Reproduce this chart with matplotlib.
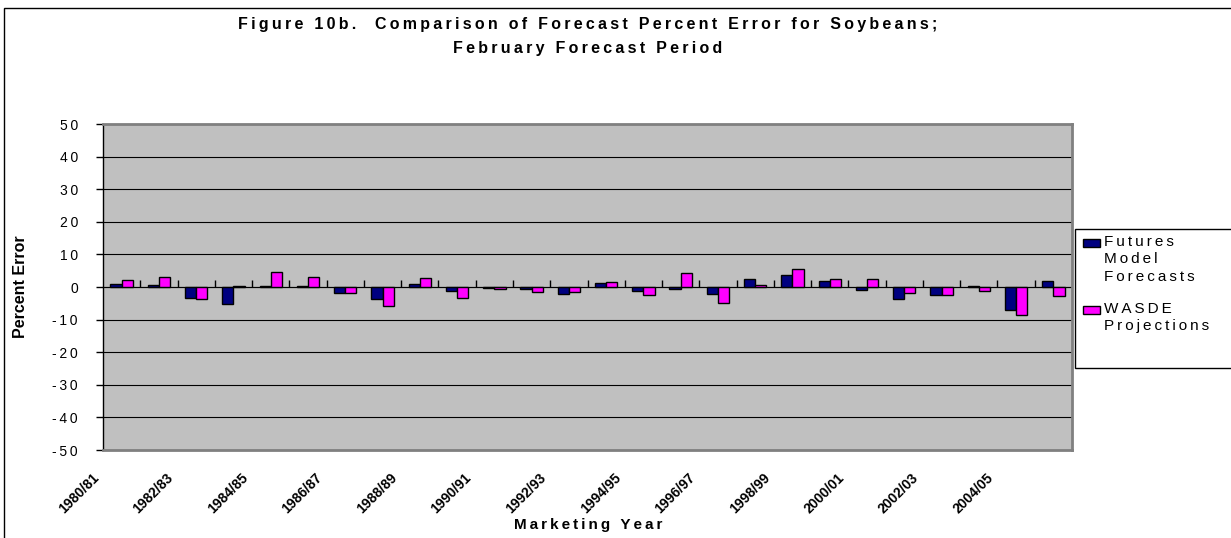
import matplotlib
matplotlib.use("Agg")
import matplotlib.pyplot as plt
import matplotlib.transforms as mtransforms
from matplotlib.patches import Rectangle
import numpy as np

plt.rcParams['font.family'] = ['Liberation Sans', 'DejaVu Sans']

years = ["1980/81", "1981/82", "1982/83", "1983/84", "1984/85", "1985/86", "1986/87",
         "1987/88", "1988/89", "1989/90", "1990/91", "1991/92", "1992/93", "1993/94",
         "1994/95", "1995/96", "1996/97", "1997/98", "1998/99", "1999/00", "2000/01",
         "2001/02", "2002/03", "2003/04", "2004/05", "2005/06"]
futures = [0.8, 0.5, -3.3, -5.2, 0.4, 0.4, -1.9, -3.7, 0.8, -1.3, -0.2, -0.7, -2.1,
           1.2, -1.1, -0.5, -2.1, 2.6, 3.7, 1.8, -0.8, -3.8, -2.4, 0.3, -7.2, 1.8]
wasde = [2.0, 3.1, -3.8, 0.2, 4.5, 3.1, -1.7, -5.7, 2.8, -3.5, -0.7, -1.6, -1.6,
         1.5, -2.4, 4.2, -4.8, 0.6, 5.5, 2.6, 2.5, -1.7, -2.4, -1.2, -8.5, -2.8]
yticks = list(range(-50, 51, 10))
title1 = "Figure 10b.  Comparison of Forecast Percent Error for Soybeans;"
title2 = "February Forecast Period"
ylabel = "Percent Error"
xlabel = "Marketing Year"
legend_labels = ["Futures\nModel\nForecasts", "WASDE\nProjections"]
colors = ["#000080", "#FF00FF"]

TS = "\u2009"


def spaced(s):
    return "\n".join(TS.join(list(line)) for line in s.split("\n"))


def ylab(v):
    return ("-" + TS if v < 0 else "") + spaced(str(abs(v)))


W, H = 1231, 538
fig = plt.figure(figsize=(W / 100, H / 100), dpi=100)
fig.patch.set_facecolor("white")

# outer chart border (only left/top visible)
fig.add_artist(Rectangle((4 / W, -0.05), 1.2, 1.05 - 8 / H, transform=fig.transFigure,
                         fill=False, ec="black", lw=1.0))

ax = fig.add_axes([103 / W, 1 - 450 / H, (1072 - 103) / W, (450 - 124) / H])
ax.set_facecolor("#C0C0C0")

x = np.arange(len(years))
bw = 0.3
ax.bar(x - bw / 2, futures, bw, color=colors[0], edgecolor="black", lw=1.0, zorder=3)
ax.bar(x + bw / 2, wasde, bw, color=colors[1], edgecolor="black", lw=1.0, zorder=3)

ax.set_xlim(-0.5, len(years) - 0.5)
ax.set_ylim(-50, 50)
ax.set_yticks(yticks)
ax.set_yticklabels([ylab(v) for v in yticks], fontsize=10)
ax.tick_params(axis="y", direction="out", length=5, width=1, pad=13, colors="black")
ax.yaxis.grid(True, color="black", lw=0.8)
ax.set_axisbelow(True)

ax.set_xticks(x[::2])
ax.set_xticklabels(years[::2], rotation=45, ha="right", va="top", fontsize=10,
                   fontweight="bold")
ax.tick_params(axis="x", length=0, pad=15)
off = mtransforms.ScaledTranslation(-20 / 100, 0, fig.dpi_scale_trans)
for lab in ax.get_xticklabels():
    lab.set_transform(lab.get_transform() + off)

for s in ["top", "right", "bottom"]:
    ax.spines[s].set_color("#808080")
    ax.spines[s].set_linewidth(2)
ax.spines["left"].set_color("black")
ax.spines["left"].set_linewidth(1)

# zero axis with category-boundary ticks
sec = ax.secondary_xaxis(0.5)
sec.set_xticks(np.arange(0.5, len(years) - 0.5, 1))
sec.set_xticklabels([])
sec.tick_params(direction="out", length=5, width=1, colors="black")
sec.spines["bottom"].set_color("black")
sec.spines["bottom"].set_linewidth(1)

fig.text(588 / W, 1 - 24 / H, spaced(title1), ha="center", va="center",
         fontsize=11.5, fontweight="bold")
fig.text(588 / W, 1 - 48 / H, spaced(title2), ha="center", va="center",
         fontsize=11.5, fontweight="bold")
fig.text(21 / W, 1 - 287 / H, ylabel, rotation=90, ha="center", va="center",
         fontsize=11.5, fontweight="bold")
fig.text(588 / W, 1 - 525 / H, spaced(xlabel), ha="center", va="center",
         fontsize=11, fontweight="bold")

# legend (box, swatches aligned with the first line of each entry)
fig.add_artist(Rectangle((1075 / W, 1 - 368 / H), 0.2, (368 - 229) / H,
                         transform=fig.transFigure, fill=True, fc="white",
                         ec="black", lw=1.0))
entry_tops = [235, 302]
for lbl, col, ty in zip(legend_labels, colors, entry_tops):
    fig.text(1104 / W, 1 - ty / H, spaced(lbl), ha="left", va="top",
             fontsize=11, linespacing=1.3)
    fig.add_artist(Rectangle((1083 / W, 1 - (ty + 12) / H), 17 / W, 8 / H,
                             transform=fig.transFigure, fc=col, ec="black", lw=1.0))

fig.savefig("out.png", dpi=100)
